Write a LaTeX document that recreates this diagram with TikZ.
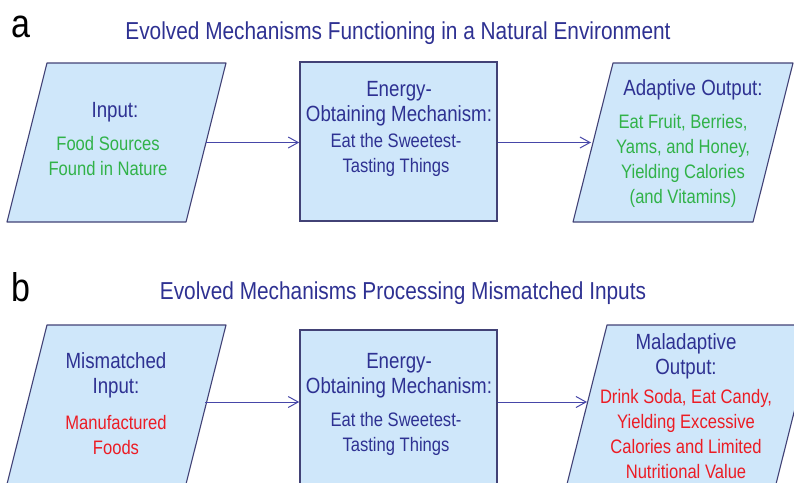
\documentclass[tikz,border=0pt]{standalone}
\usepackage{fontspec}
\setmainfont{Liberation Sans}[FakeStretch=0.85]
\usetikzlibrary{arrows.meta}

\definecolor{navy}{RGB}{46,49,146}
\definecolor{natgreen}{RGB}{48,178,72}
\definecolor{badred}{RGB}{236,28,36}
\definecolor{boxfill}{RGB}{207,231,250}
\definecolor{boxline}{RGB}{66,66,118}
\definecolor{flowline}{RGB}{70,70,168}

\begin{document}
\begin{tikzpicture}[x=1pt, y=-1pt,
    iobox/.style={draw=boxline, line width=1.1pt, fill=boxfill, line join=round},
    mechbox/.style={rectangle, minimum width=197pt, minimum height=159pt,
        inner sep=0pt, draw=boxline, line width=1.6pt, fill=boxfill},
    txt/.style={align=center, text=navy, inner sep=0pt,
        font=\fontsize{22}{25}\selectfont},
    body/.style={txt, font=\fontsize{19.5}{25}\selectfont},
    title/.style={text=navy, inner sep=0pt, anchor=base,
        font=\fontsize{24.5}{28}\selectfont},
    panel/.style={inner sep=0pt, anchor=base west,
        font=\fontsize{40}{40}\selectfont},
    flow/.style={draw=flowline, line width=1pt, ->},
    >={Straight Barb[length=10pt, width=11pt]}]

    % Page
    \useasboundingbox (0,0) rectangle (794,482);
    \clip (0,0) rectangle (794,482);

    % Panel a
    \node[panel] (alab) at (11,37) {a};
    \node[title] (atitle) at (398,39) {Evolved Mechanisms Functioning in a Natural Environment};

    % input and output parallelograms
    \draw[iobox] (47,63) -- (226,63) -- (186,222) -- (7,222) -- cycle;
    \draw[iobox] (613,63) -- (793,63) -- (753,222) -- (573,222) -- cycle;
    \coordinate (a1out) at (206,142.5);
    \coordinate (a3in) at (591,142.5);
    \node[mechbox] (a2) at (398.5,141.5) {};

    \node[txt] (a1h) at (115,112) {Input:};
    \node[body, text=natgreen] (a1b) at (108,156) {Food Sources\\Found in Nature};
    \node[txt] (a2h) at (399,103.5) {Energy-\\Obtaining Mechanism:};
    \node[body] (a2b) at (396,155) {Eat the Sweetest-\\Tasting Things};
    \node[txt] (a3h) at (693,90) {Adaptive Output:};
    \node[body, text=natgreen] (a3b) at (683,161) {Eat Fruit, Berries,\\Yams, and Honey,\\Yielding Calories\\(and Vitamins)};

    \draw[flow] (a1out) -- (a1out -| a2.west);
    \draw[flow] (a2.east |- a3in) -- (a3in);

    % Panel b
    \node[panel] (blab) at (11,301) {b};
    \node[title] (btitle) at (403,299) {Evolved Mechanisms Processing Mismatched Inputs};

    \draw[iobox] (47,325) -- (226,325) -- (186,484) -- (7,484) -- cycle;
    \draw[iobox] (607,325) -- (816,325) -- (776,484) -- (567,484) -- cycle;
    \coordinate (b1out) at (205,402);
    \coordinate (b3in) at (587,402);
    \node[mechbox] (b2) at (398.5,409.5) {};

    \node[txt] (b1h) at (116,375) {Mismatched\\Input:};
    \node[body, text=badred] (b1b) at (116,435) {Manufactured\\Foods};
    \node[txt] (b2h) at (399,375.5) {Energy-\\Obtaining Mechanism:};
    \node[body] (b2b) at (396,434) {Eat the Sweetest-\\Tasting Things};
    \node[txt] (b3h) at (686,356) {Maladaptive\\Output:};
    \node[body, text=badred] (b3b) at (686,434.5) {Drink Soda, Eat Candy,\\Yielding Excessive\\Calories and Limited\\Nutritional Value};

    \draw[flow] (b1out) -- (b1out -| b2.west);
    \draw[flow] (b2.east |- b3in) -- (b3in);
\end{tikzpicture}
\end{document}
